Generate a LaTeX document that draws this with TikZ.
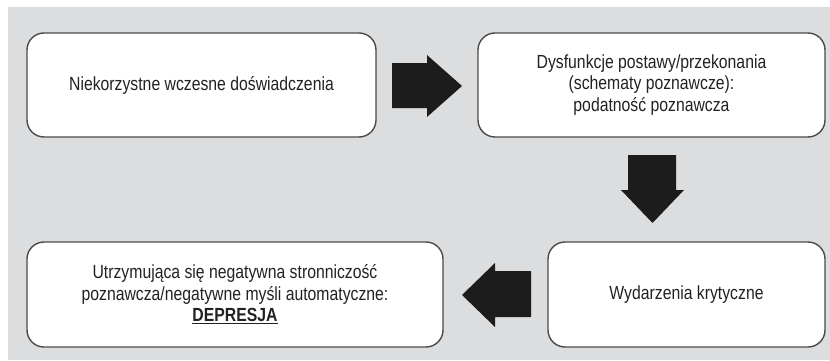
\documentclass[tikz,border=0pt]{standalone}
\usepackage{fontspec}
\newfontfamily\boxfont{Liberation Sans}[FakeStretch=0.83]
\definecolor{bggray}{HTML}{DCDDDF}
\definecolor{edgegray}{HTML}{4A4A4A}
\definecolor{textgray}{HTML}{222222}
\definecolor{arrowblack}{HTML}{1C1C1C}
\tikzset{
  stage/.style={draw=edgegray, fill=white, line width=1.4pt, rounded corners=17pt,
    inner sep=0pt, align=center, text=textgray,
    font=\boxfont\fontsize{19}{21.5}\selectfont},
  blockarrow/.style={fill=arrowblack}
}
\begin{document}
\begin{tikzpicture}[x=1pt,y=1pt]
\useasboundingbox (0,0) rectangle (830,360);
\fill[white] (0,0) rectangle (830,360);
\fill[bggray] (8,0) rectangle (830,353);

\node[stage, minimum width=349pt, minimum height=104pt] (early) at (201.5,275) {Niekorzystne wczesne doświadczenia};
\node[stage, minimum width=347pt, minimum height=104pt] (schema) at (651.5,275) {Dysfunkcje postawy/przekonania\\(schematy poznawcze):\\podatność poznawcza};
\node[stage, minimum width=277pt, minimum height=105pt] (critical) at (686.5,65.5) {Wydarzenia krytyczne};
\node[stage, minimum width=416pt, minimum height=105pt] (depression) at (235,65.5) {Utrzymująca się negatywna stronniczość\\poznawcza/negatywne myśli automatyczne:\\\underline{\textbf{DEPRESJA}}};

\fill[blockarrow] (392,252) -- (427,252) -- (427,243) -- (462,274) -- (427,305) -- (427,297) -- (392,297) -- cycle;
\fill[blockarrow] (628,205) -- (628,170) -- (621,170) -- (652.5,137) -- (684,170) -- (676,170) -- (676,205) -- cycle;
\fill[blockarrow] (531,89) -- (495,89) -- (495,97) -- (462,65) -- (495,33) -- (495,43) -- (531,43) -- cycle;
\end{tikzpicture}
\end{document}
